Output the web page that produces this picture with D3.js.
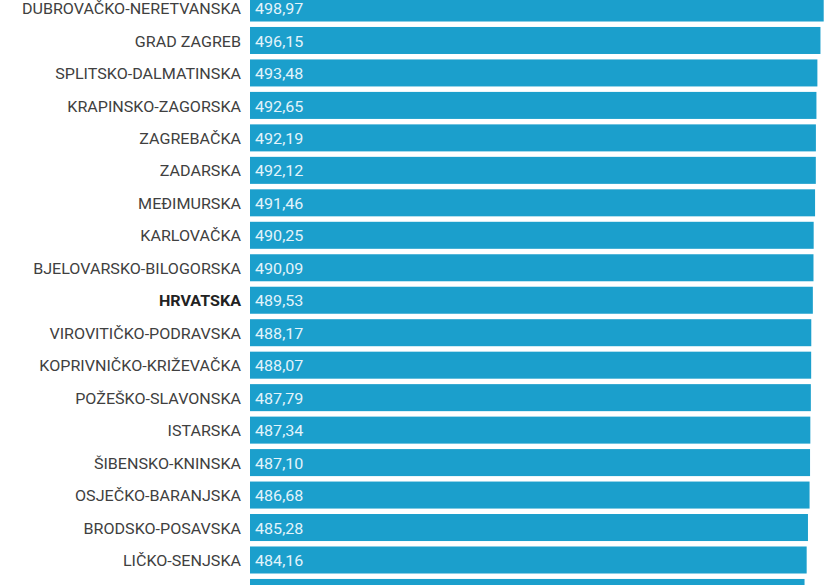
<!DOCTYPE html>
<html>
<head>
<meta charset="utf-8">
<script src="https://cdn.jsdelivr.net/npm/d3@7"></script>
<style>
  html, body { margin: 0; padding: 0; background: #ffffff; overflow: hidden; }
  svg { display: block; }
</style>
</head>
<body>
<svg id="chart" width="840" height="585"></svg>
<script>
const categories = [
  "DUBROVAČKO-NERETVANSKA", "GRAD ZAGREB", "SPLITSKO-DALMATINSKA", "KRAPINSKO-ZAGORSKA",
  "ZAGREBAČKA", "ZADARSKA", "MEĐIMURSKA", "KARLOVAČKA", "BJELOVARSKO-BILOGORSKA",
  "HRVATSKA", "VIROVITIČKO-PODRAVSKA", "KOPRIVNIČKO-KRIŽEVAČKA", "POŽEŠKO-SLAVONSKA",
  "ISTARSKA", "ŠIBENSKO-KNINSKA", "OSJEČKO-BARANJSKA", "BRODSKO-POSAVSKA", "LIČKO-SENJSKA",
  "SISAČKO-MOSLAVAČKA"
];
const values = [
  498.97, 496.15, 493.48, 492.65, 492.19, 492.12, 491.46, 490.25, 490.09,
  489.53, 488.17, 488.07, 487.79, 487.34, 487.10, 486.68, 485.28, 484.16,
  482.30
];
const highlighted = ["HRVATSKA"];

const data = categories.map((c, i) => ({ name: c, value: values[i] }));

const W = 840, H = 585;
const svg = d3.select("#chart");
const barLeft = 250;
const step = 32.47;
const r0 = -8.23;

const x = d3.scaleLinear()
  .domain([0, d3.max(values)])
  .range([barLeft, barLeft + 573.7]);

const y = d3.scaleBand()
  .domain(categories)
  .range([r0, r0 + categories.length * step])
  .paddingInner(0.168)
  .paddingOuter(0.084);

const rows = svg.selectAll("g.row")
  .data(data)
  .join("g")
  .attr("class", "row");

rows.append("rect")
  .attr("x", x(0))
  .attr("y", d => y(d.name))
  .attr("width", d => x(d.value) - x(0))
  .attr("height", y.bandwidth())
  .attr("fill", "#1b9fcc");

// only rows whose text lies inside the visible frame get labels
const labelled = rows.filter(d => y(d.name) + y.bandwidth() / 2 + 8 < H);

const sx = 1.15;
labelled.append("text")
  .attr("transform", d => `translate(${barLeft - 9},${y(d.name) + y.bandwidth() / 2 + 1.5}) scale(${sx},1)`)
  .attr("text-anchor", "end")
  .attr("dominant-baseline", "central")
  .attr("font-family", "Roboto, sans-serif")
  .attr("font-size", 14)
  .attr("font-weight", d => highlighted.includes(d.name) ? 700 : 400)
  .attr("fill", d => highlighted.includes(d.name) ? "#222222" : "#404040")
  .text(d => d.name);

const fmt = v => v.toFixed(2).replace(".", ",");

labelled.append("text")
  .attr("transform", d => `translate(${barLeft + 5},${y(d.name) + y.bandwidth() / 2 + 1.5}) scale(${sx},1)`)
  .attr("dominant-baseline", "central")
  .attr("font-family", "Roboto, sans-serif")
  .attr("font-size", 14)
  .attr("fill", "#e3f4fb")
  .text(d => fmt(d.value));
</script>
</body>
</html>
